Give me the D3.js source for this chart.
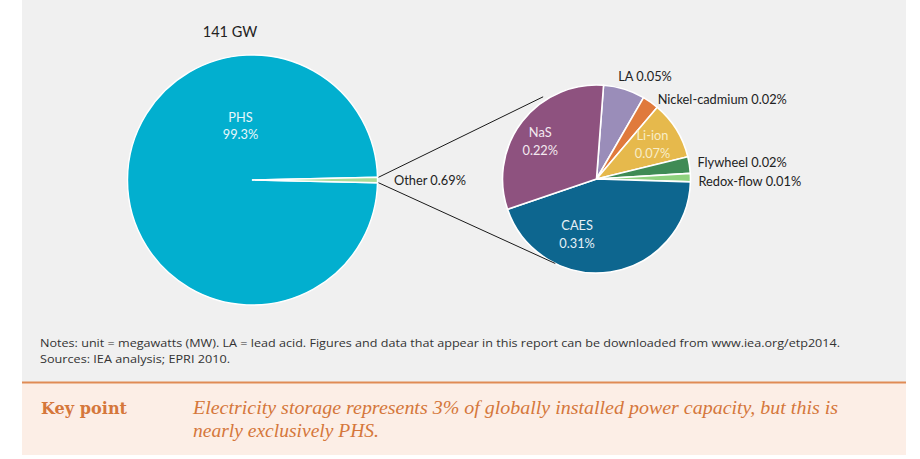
<!DOCTYPE html>
<html>
<head>
<meta charset="utf-8">
<script src="https://cdn.jsdelivr.net/npm/d3@7/dist/d3.min.js"></script>
<style>
html,body{margin:0;padding:0;background:#fff;}
svg{display:block;}
</style>
</head>
<body>
<svg id="chart" width="920" height="459"></svg>
<script>
// ---------- data ----------
const titleText = "141 GW";
const bigCategories = ["PHS", "Other"];
const bigValues = [99.3, 0.69];
const bigLabels = ["99.3%", "0.69%"];

const smallCategories = ["LA", "Nickel-cadmium", "Li-ion", "Flywheel", "Redox-flow", "CAES", "NaS"];
const smallValues = [0.05, 0.02, 0.07, 0.02, 0.01, 0.31, 0.22];
const smallLabels = ["0.05%", "0.02%", "0.07%", "0.02%", "0.01%", "0.31%", "0.22%"];

const notesLines = [
  "Notes: unit = megawatts (MW). LA = lead acid. Figures and data that appear in this report can be downloaded from www.iea.org/etp2014.",
  "Sources: IEA analysis; EPRI 2010."
];
const keyTitle = "Key point";
const keyLines = [
  "Electricity storage represents 3% of globally installed power capacity, but this is",
  "nearly exclusively PHS."
];

// ---------- styles ----------
const bigColors = ["#02AFCF", "#A9DB98"];
const smallColors = ["#9A8DB9", "#E07A3C", "#E6B94C", "#3F8B55", "#8FD27E", "#0D668F", "#8E527F"];
const labelFont = "Lato, 'Open Sans', sans-serif";
const fs = 12.8;

const svg = d3.select("#chart");

// panels
svg.append("rect").attr("x", 22).attr("y", 0).attr("width", 884).attr("height", 382).attr("fill", "#F0F0F0");
svg.append("rect").attr("x", 22).attr("y", 382).attr("width", 884).attr("height", 73).attr("fill", "#FCEEE6");
svg.append("line").attr("x1", 22).attr("x2", 906).attr("y1", 382.5).attr("y2", 382.5)
  .attr("stroke", "#E08B55").attr("stroke-width", 2);

// ---------- big pie ----------
const bigC = {x: 252.5, y: 180}, bigR = 125;
const bigTotal = d3.sum(bigValues);
const otherAngle = 2 * Math.PI * bigValues[1] / bigTotal;
const bigStart = Math.PI / 2 + otherAngle / 2;
const bigPie = d3.pie().sort(null).value(d => d).startAngle(bigStart).endAngle(bigStart + 2 * Math.PI);
const bigArcs = bigPie(bigValues);
const bigArc = d3.arc().innerRadius(0).outerRadius(bigR);
const gBig = svg.append("g").attr("transform", `translate(${bigC.x},${bigC.y})`);
gBig.selectAll("path").data(bigArcs).join("path")
  .attr("d", bigArc)
  .attr("fill", (d, i) => bigColors[i])
  .attr("stroke", "#fff")
  .attr("stroke-width", 1.4)
  .attr("stroke-linejoin", "round");

// PHS label
gBig.append("text").attr("x", -12).attr("y", -58).attr("text-anchor", "middle")
  .attr("font-family", labelFont).attr("font-size", fs).attr("fill", "#E8F7FB")
  .text(bigCategories[0]);
gBig.append("text").attr("x", -12).attr("y", -41).attr("text-anchor", "middle")
  .attr("font-family", labelFont).attr("font-size", fs).attr("fill", "#E8F7FB")
  .text(bigLabels[0]);

// title
svg.append("text").attr("x", 230).attr("y", 37).attr("text-anchor", "middle")
  .attr("font-family", labelFont).attr("font-size", 14.5).attr("fill", "#222")
  .text(titleText);

// Other label
svg.append("text").attr("x", 394).attr("y", 185)
  .attr("font-family", labelFont).attr("font-size", fs).attr("fill", "#222")
  .text(bigCategories[1] + " " + bigLabels[1]);

// ---------- small pie ----------
const smC = {x: 596.5, y: 179}, smR = 94;
const deg = Math.PI / 180;
const smStart = 4.3 * deg;
const smPie = d3.pie().sort(null).value(d => d).startAngle(smStart).endAngle(smStart + 2 * Math.PI);
const smArcs = smPie(smallValues);
const smArc = d3.arc().innerRadius(0).outerRadius(smR);
const gSm = svg.append("g").attr("transform", `translate(${smC.x},${smC.y})`);
gSm.selectAll("path").data(smArcs).join("path")
  .attr("d", smArc)
  .attr("fill", (d, i) => smallColors[i])
  .attr("stroke", "#fff")
  .attr("stroke-width", 1.6)
  .attr("stroke-linejoin", "round");

// connector lines from big pie "Other" edge to small pie
const otherArc = bigArcs[1];
function polar(cx, cy, r, a) { return [cx + r * Math.sin(a), cy - r * Math.cos(a)]; }
const p1 = polar(bigC.x, bigC.y, bigR + 1, otherArc.startAngle);
const p2 = polar(bigC.x, bigC.y, bigR + 1, otherArc.endAngle);
const q1 = polar(smC.x, smC.y, smR + 4, 327 * deg);
const q2 = polar(smC.x, smC.y, smR, 206 * deg);
svg.append("line").attr("x1", p1[0]).attr("y1", p1[1]).attr("x2", q1[0]).attr("y2", q1[1])
  .attr("stroke", "#1a1a1a").attr("stroke-width", 1);
svg.append("line").attr("x1", p2[0]).attr("y1", p2[1]).attr("x2", q2[0]).attr("y2", q2[1])
  .attr("stroke", "#1a1a1a").attr("stroke-width", 1);

// inside labels: [radius factor, angle shift (deg), colour]
const insideLayout = {"NaS": [0.72, -4, "#F3E9F0"], "Li-ion": [0.7, 0, "#F8EDC8"], "CAES": [0.62, 28, "#E6F0F6"]};
smArcs.forEach((d, i) => {
  const name = smallCategories[i];
  const mid = (d.startAngle + d.endAngle) / 2;
  if (insideLayout[name]) {
    const [f, sh, col] = insideLayout[name];
    const [x, y] = polar(0, 0, smR * f, mid + sh * deg);
    gSm.append("text").attr("x", x).attr("y", y - 4).attr("text-anchor", "middle")
      .attr("font-family", labelFont).attr("font-size", fs).attr("fill", col).text(name);
    gSm.append("text").attr("x", x).attr("y", y + 14).attr("text-anchor", "middle")
      .attr("font-family", labelFont).attr("font-size", fs).attr("fill", col).text(smallLabels[i]);
  }
});
// outside labels: offsets from outer point of slice
const outsideLayout = {"LA": [-6, -8.5], "Nickel-cadmium": [7, 1.5], "Flywheel": [8, 1.5], "Redox-flow": [8, 8.5]};
smArcs.forEach((d, i) => {
  const name = smallCategories[i];
  const mid = (d.startAngle + d.endAngle) / 2;
  if (outsideLayout[name]) {
    const [dx, dy] = outsideLayout[name];
    const [x, y] = polar(0, 0, smR, mid);
    gSm.append("text").attr("x", x + dx).attr("y", y + dy)
      .attr("font-family", labelFont).attr("font-size", fs).attr("fill", "#222")
      .text(name + " " + smallLabels[i]);
  }
});

// ---------- notes ----------
svg.append("text").attr("x", 40).attr("y", 347)
  .attr("font-family", "'Open Sans', sans-serif").attr("font-size", 11).attr("fill", "#333")
  .attr("textLength", 800).attr("lengthAdjust", "spacingAndGlyphs")
  .text(notesLines[0]);
svg.append("text").attr("x", 40).attr("y", 363)
  .attr("font-family", "'Open Sans', sans-serif").attr("font-size", 11).attr("fill", "#333")
  .attr("textLength", 190).attr("lengthAdjust", "spacingAndGlyphs")
  .text(notesLines[1]);

// ---------- key point ----------
svg.append("text").attr("x", 41).attr("y", 414)
  .attr("font-family", "'DejaVu Serif', serif").attr("font-weight", "bold").attr("font-size", 16)
  .attr("fill", "#D5773B")
  .attr("textLength", 86).attr("lengthAdjust", "spacingAndGlyphs")
  .text(keyTitle);
svg.append("text").attr("x", 193).attr("y", 414)
  .attr("font-family", "'Liberation Serif', serif").attr("font-style", "italic").attr("font-size", 18)
  .attr("fill", "#D5773B")
  .attr("textLength", 645).attr("lengthAdjust", "spacingAndGlyphs")
  .text(keyLines[0]);
svg.append("text").attr("x", 193).attr("y", 437)
  .attr("font-family", "'Liberation Serif', serif").attr("font-style", "italic").attr("font-size", 18)
  .attr("fill", "#D5773B")
  .attr("textLength", 186).attr("lengthAdjust", "spacingAndGlyphs")
  .text(keyLines[1]);
</script>
</body>
</html>
